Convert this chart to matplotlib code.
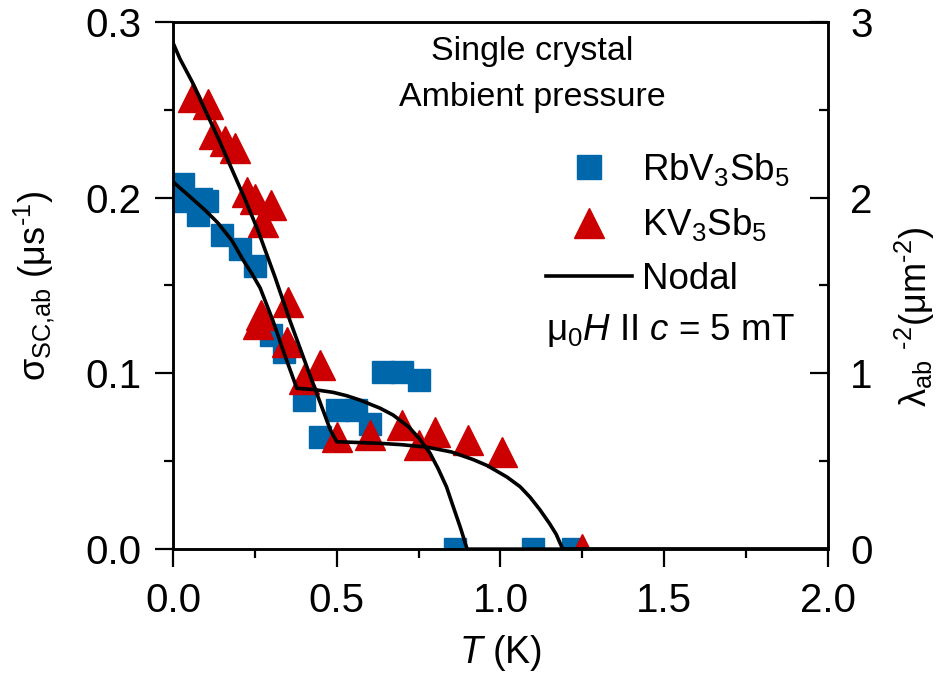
import matplotlib
matplotlib.use("Agg")
import matplotlib.pyplot as plt
from matplotlib.lines import Line2D
from matplotlib.ticker import MultipleLocator, FormatStrFormatter

plt.rcParams["font.family"] = ["Liberation Sans", "DejaVu Sans"]
plt.rcParams["mathtext.fontset"] = "custom"
plt.rcParams["mathtext.rm"] = "Liberation Sans"
plt.rcParams["mathtext.it"] = "Liberation Sans:italic"
plt.rcParams["mathtext.bf"] = "Liberation Sans:bold"

# RbV3Sb5 (blue squares)
rb_T = [0.03, 0.02, 0.085, 0.105, 0.075, 0.15, 0.205, 0.25, 0.30, 0.34,
        0.40, 0.45, 0.50, 0.56, 0.60, 0.64, 0.70, 0.75, 0.86, 1.10, 1.22]
rb_sigma = [0.208, 0.198, 0.199, 0.198, 0.190, 0.179, 0.171, 0.161, 0.122, 0.112,
            0.085, 0.064, 0.079, 0.079, 0.071, 0.101, 0.101, 0.096, 0.0, 0.0, 0.0]

# KV3Sb5 (red triangles)
k_T = [0.06, 0.107, 0.125, 0.16, 0.19, 0.226, 0.25, 0.30, 0.275, 0.27,
       0.26, 0.35, 0.348, 0.40, 0.45, 0.50, 0.60, 0.70, 0.75, 0.80,
       0.90, 1.005, 1.25]
k_sigma = [0.257, 0.253, 0.236, 0.232, 0.228, 0.203, 0.199, 0.196, 0.186, 0.133,
           0.128, 0.1406, 0.118, 0.097, 0.105, 0.064, 0.065, 0.0706, 0.059, 0.0666,
           0.062, 0.055, 0.0]

# nodal fit curves
fitK_T = [0.0, 0.021, 0.058, 0.10, 0.14, 0.18, 0.22, 0.26, 0.311, 0.357,
          0.42, 0.48, 0.50, 0.56, 0.632, 0.70, 0.776, 0.85, 0.916, 0.96,
          1.02, 1.06, 1.09, 1.12, 1.15, 1.17, 1.19, 2.0]
fitK_sigma = [0.288, 0.279, 0.266, 0.249, 0.233, 0.216, 0.199, 0.181, 0.155, 0.130,
              0.098, 0.068, 0.0611, 0.0607, 0.0602, 0.0594, 0.0580, 0.0553, 0.0510, 0.0475,
              0.0410, 0.0355, 0.0296, 0.0225, 0.0145, 0.0085, 0.0, 0.0]

fitRb_T = [0.0, 0.052, 0.10, 0.137, 0.18, 0.214, 0.24, 0.266, 0.305, 0.34,
           0.378, 0.43, 0.489, 0.53, 0.571, 0.632, 0.672, 0.72, 0.754, 0.785,
           0.809, 0.835, 0.855, 0.878, 0.898, 2.0]
fitRb_sigma = [0.209, 0.2005, 0.1925, 0.1856, 0.1755, 0.1645, 0.157, 0.1486, 0.130, 0.111,
               0.0915, 0.0908, 0.0892, 0.0873, 0.0848, 0.0802, 0.0763, 0.0695, 0.0625, 0.0545,
               0.046, 0.0355, 0.0245, 0.012, 0.0, 0.0]

blue = "#0068AA"
red = "#CC0000"

fig = plt.figure(figsize=(9.43, 6.83), dpi=100)
ax = fig.add_axes([0.1835, 0.196, 0.6945, 0.772])

ax.plot(rb_T, rb_sigma, "s", color=blue, ms=16, mec=blue, zorder=2)
ax.plot(k_T, k_sigma, "^", color=red, ms=21, mec=red, zorder=3)
ax.plot(fitK_T, fitK_sigma, "-", color="black", lw=2.6, zorder=4)
ax.plot(fitRb_T, fitRb_sigma, "-", color="black", lw=2.6, zorder=4)

ax.set_xlim(0, 2.0)
ax.set_ylim(0, 0.3)
ax.xaxis.set_major_locator(MultipleLocator(0.5))
ax.xaxis.set_minor_locator(MultipleLocator(0.25))
ax.yaxis.set_major_locator(MultipleLocator(0.1))
ax.yaxis.set_minor_locator(MultipleLocator(0.05))
ax.xaxis.set_major_formatter(FormatStrFormatter("%.1f"))
ax.yaxis.set_major_formatter(FormatStrFormatter("%.1f"))
ax.tick_params(which="major", direction="out", length=13, width=1.6, labelsize=29)
ax.tick_params(axis="y", which="major", pad=10)
ax.tick_params(axis="x", which="major", pad=11)
ax.tick_params(which="minor", direction="out", length=6.5, width=1.6)
for sp in ax.spines.values():
    sp.set_linewidth(1.8)

ax.set_xlabel(r"$\mathit{T}$ (K)", fontsize=27, labelpad=9)
ax.set_ylabel(r"σ$_{\mathrm{SC{,}ab}}$ (μs$^{\text{-1}}$)", fontsize=26)
ax.yaxis.set_label_coords(-0.177, 0.5)

ax2 = ax.twinx()
ax2.set_ylim(0, 3)
ax2.yaxis.set_major_locator(MultipleLocator(1))
ax2.yaxis.set_minor_locator(MultipleLocator(0.5))
ax2.tick_params(which="major", direction="in", length=13, width=1.6, labelsize=29, pad=16)
ax2.tick_params(which="minor", direction="in", length=6.5, width=1.6)
for sp in ax2.spines.values():
    sp.set_linewidth(1.8)
ax2.set_ylabel(r"λ$_{\mathrm{ab}}$ $^{\text{-2}}$(μm$^{\text{-2}}$)", fontsize=26, rotation=90)
ax2.yaxis.set_label_coords(1.099, 0.44)

ax.text(0.548, 0.943, "Single crystal", transform=ax.transAxes,
        ha="center", va="center", fontsize=24.5)
ax.text(0.548, 0.857, "Ambient pressure", transform=ax.transAxes,
        ha="center", va="center", fontsize=24.5)

handles = [
    Line2D([], [], ls="none", marker="s", color=blue, ms=17.5),
    Line2D([], [], ls="none", marker="^", color=red, ms=22),
    Line2D([], [], color="black", lw=2.6),
]
labels = [r"RbV$_3$Sb$_5$", r"KV$_3$Sb$_5$", "Nodal"]
ax.legend(handles, labels, loc="upper left", bbox_to_anchor=(0.5695, 0.755),
          frameon=False, fontsize=26.5, handlelength=2.34, handletextpad=0.27,
          labelspacing=0.5, borderaxespad=0, borderpad=0)
ax.text(0.57, 0.415, r"$\mathrm{\mu_0}\mathit{H}$ II $\mathit{c}$ = 5 mT", transform=ax.transAxes,
        ha="left", va="center", fontsize=26.5)

fig.savefig("out.png", dpi=100)
